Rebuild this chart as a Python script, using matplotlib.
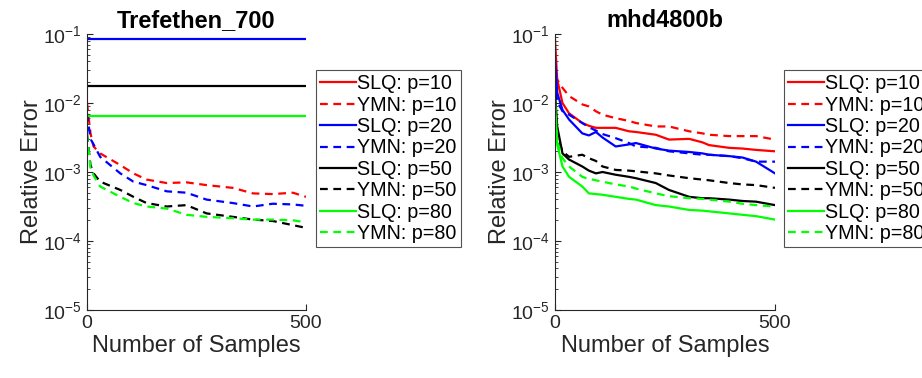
import numpy as np
import matplotlib
matplotlib.use('Agg')
import matplotlib.pyplot as plt

plt.rcParams['font.family'] = ['Liberation Sans', 'DejaVu Sans']
plt.rcParams['mathtext.fontset'] = 'custom'
plt.rcParams['mathtext.rm'] = 'Liberation Sans'
plt.rcParams['mathtext.it'] = 'Liberation Sans'

n_tref = [0, 8, 15, 30, 76, 106, 136, 182, 227, 273, 333, 379, 424, 470, 500]
# Trefethen_700: SLQ lines are flat (p=10 is above the plot)
tref_slq = {10: 0.2, 20: 0.085, 50: 0.0176, 80: 0.0065}
# log10 of relative error
tref_ymn = {
    10: [-2.0, -2.44, -2.63, -2.73, -2.9, -3.02, -3.11, -3.16, -3.15, -3.19, -3.23, -3.31, -3.32, -3.3, -3.36],
    20: [-2.15, -2.52, -2.6, -2.78, -3.02, -3.14, -3.19, -3.28, -3.3, -3.4, -3.45, -3.5, -3.46, -3.47, -3.49],
    50: [-2.45, -2.9, -3.02, -3.14, -3.26, -3.36, -3.45, -3.5, -3.48, -3.6, -3.65, -3.69, -3.71, -3.77, -3.81],
    80: [-2.45, -2.95, -3.05, -3.21, -3.36, -3.45, -3.5, -3.53, -3.62, -3.65, -3.67, -3.69, -3.69, -3.7, -3.73],
}

n_mhd = [0, 5, 17, 32, 62, 77, 93, 108, 138, 168, 184, 229, 259, 305, 335, 350, 396, 426, 457, 500]
mhd_slq = {
    10: [-1.08, -1.66, -2.0, -2.15, -2.29, -2.33, -2.36, -2.36, -2.36, -2.41, -2.42, -2.46, -2.53, -2.52, -2.57, -2.61, -2.65, -2.66, -2.68, -2.7],
    20: [-1.35, -1.85, -2.1, -2.24, -2.44, -2.47, -2.42, -2.5, -2.63, -2.6, -2.58, -2.66, -2.69, -2.71, -2.73, -2.75, -2.77, -2.79, -2.85, -3.02],
    50: [-1.85, -2.34, -2.73, -2.82, -2.92, -2.98, -3.02, -3.0, -3.04, -3.07, -3.09, -3.16, -3.26, -3.36, -3.38, -3.38, -3.4, -3.42, -3.43, -3.48],
    80: [-2.0, -2.6, -2.92, -3.07, -3.21, -3.31, -3.32, -3.33, -3.36, -3.39, -3.4, -3.48, -3.5, -3.55, -3.56, -3.57, -3.6, -3.62, -3.64, -3.69],
}
mhd_ymn = {
    10: [-1.6, -1.66, -1.78, -1.9, -2.02, -2.05, -2.12, -2.17, -2.22, -2.26, -2.29, -2.34, -2.34, -2.41, -2.44, -2.46, -2.48, -2.48, -2.48, -2.53],
    20: [-1.65, -1.98, -2.12, -2.17, -2.29, -2.35, -2.4, -2.45, -2.51, -2.58, -2.63, -2.65, -2.7, -2.73, -2.75, -2.75, -2.77, -2.8, -2.85, -2.85],
    50: [-2.0, -2.5, -2.7, -2.78, -2.75, -2.8, -2.84, -2.92, -2.97, -2.98, -2.99, -3.02, -3.05, -3.09, -3.11, -3.12, -3.16, -3.18, -3.19, -3.23],
    80: [-2.0, -2.55, -2.8, -2.92, -3.07, -3.1, -3.12, -3.14, -3.18, -3.21, -3.24, -3.31, -3.35, -3.38, -3.39, -3.4, -3.43, -3.46, -3.48, -3.5],
}

ps = [10, 20, 50, 80]
colors = {10: '#ff0000', 20: '#0000ff', 50: '#000000', 80: '#00ff00'}
titles = ['Trefethen_700', 'mhd4800b']
yticks = [1e-5, 1e-4, 1e-3, 1e-2, 1e-1]
ytick_labels = ['10$^{-5}$', '10$^{-4}$', '10$^{-3}$', '10$^{-2}$', '10$^{-1}$']
tick_gray = '#262626'

fig = plt.figure(figsize=(9.22, 3.78), dpi=100)
ax1 = fig.add_axes([87 / 922, 1 - 310 / 378, 219 / 922, 276 / 378])
ax2 = fig.add_axes([555 / 922, 1 - 310 / 378, 220 / 922, 276 / 378])

for ax, title in zip([ax1, ax2], titles):
    for p in ps:
        c = colors[p]
        if ax is ax1:
            ax.plot([0, 500], [tref_slq[p]] * 2, color=c, lw=1.6, label='SLQ: p=%d' % p)
            ax.plot(n_tref, 10.0 ** np.array(tref_ymn[p]), color=c, lw=1.6,
                    dashes=(3.5, 2.5), label='YMN: p=%d' % p)
        else:
            ax.plot(n_mhd, 10.0 ** np.array(mhd_slq[p]), color=c, lw=1.6, label='SLQ: p=%d' % p)
            ax.plot(n_mhd, 10.0 ** np.array(mhd_ymn[p]), color=c, lw=1.6,
                    dashes=(3.5, 2.5), label='YMN: p=%d' % p)
    ax.set_yscale('log')
    ax.set_ylim(1e-5, 1e-1)
    ax.set_xlim(0, 500)
    ax.set_xticks([0, 500])
    ax.set_yticks(yticks)
    ax.set_yticklabels(ytick_labels)
    ax.tick_params(direction='in', labelsize=14, colors=tick_gray, length=4)
    ax.tick_params(which='minor', direction='in', length=2.5, colors=tick_gray)
    for s in ['top', 'right']:
        ax.spines[s].set_visible(False)
    for s in ['left', 'bottom']:
        ax.spines[s].set_color(tick_gray)
    ax.set_xlabel('Number of Samples', fontsize=17, color=tick_gray, labelpad=2)
    ax.set_ylabel('Relative Error', fontsize=17, color=tick_gray, labelpad=0)
    ax.set_title(title, fontsize=17, fontweight='bold', pad=5)

for ax, x0 in [(ax1, 316), (ax2, 784)]:
    leg = ax.legend(loc='upper left', bbox_to_anchor=(x0 / 922, 1 - 70 / 378),
                    bbox_transform=fig.transFigure, fontsize=14.2, frameon=True,
                    fancybox=False, edgecolor='#262626', handlelength=1.8,
                    handletextpad=0.05, labelspacing=0.12, borderpad=0.22,
                    borderaxespad=0)
    leg.get_frame().set_linewidth(0.8)

fig.savefig('out.png', dpi=100)
